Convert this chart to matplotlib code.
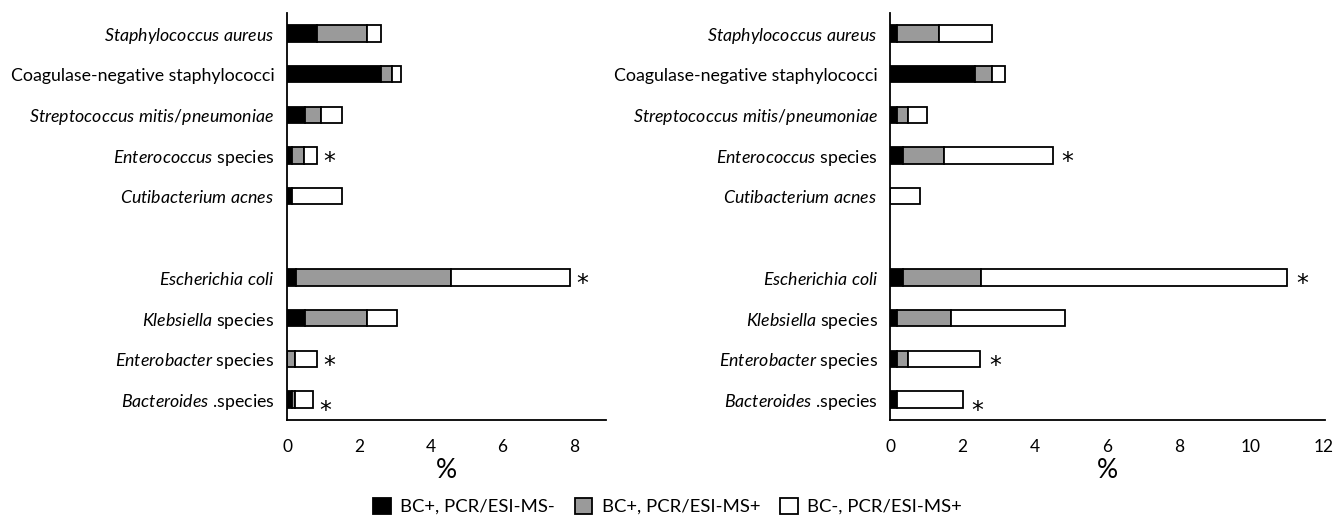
import matplotlib.pyplot as plt
from matplotlib.patches import Patch

plt.rcParams['font.family'] = ['Lato', 'DejaVu Sans']
plt.rcParams['mathtext.fontset'] = 'custom'
plt.rcParams['mathtext.it'] = 'Lato:italic'
plt.rcParams['mathtext.rm'] = 'Lato'

# --- data ---
labels = [
    r"$\mathit{Staphylococcus\ aureus}$ ",
    "Coagulase-negative staphylococci",
    r"$\mathit{Streptococcus\ mitis/pneumoniae}$",
    r"$\mathit{Enterococcus}$ species",
    r"$\mathit{Cutibacterium\ acnes}$ ",
    "",
    r"$\mathit{Escherichia\ coli}$ ",
    r"$\mathit{Klebsiella}$ species",
    r"$\mathit{Enterobacter}$ species",
    r"$\mathit{Bacteroides}$ .species",
]
starred = [False, False, False, True, False, False, True, False, True, True]

left_black = [0.85, 2.61, 0.51, 0.14, 0.14, 0, 0.25, 0.50, 0.00, 0.14]
left_gray = [1.37, 0.33, 0.44, 0.34, 0.00, 0, 4.31, 1.74, 0.23, 0.09]
left_white = [0.39, 0.24, 0.58, 0.36, 1.39, 0, 3.33, 0.82, 0.61, 0.50]

right_black = [0.18, 2.35, 0.18, 0.35, 0.00, 0, 0.35, 0.18, 0.18, 0.18]
right_gray = [1.16, 0.48, 0.31, 1.14, 0.00, 0, 2.15, 1.50, 0.31, 0.00]
right_white = [1.49, 0.34, 0.52, 3.01, 0.83, 0, 8.50, 3.15, 2.00, 1.82]

legend_labels = ["BC+, PCR/ESI-MS-", "BC+, PCR/ESI-MS+", "BC-, PCR/ESI-MS+"]
colors = ["black", "#9a9a9a", "white"]

fig = plt.figure(figsize=(13.35, 5.23), dpi=100)
ax1 = fig.add_axes([0.215, 0.197, 0.239, 0.778])
ax2 = fig.add_axes([0.667, 0.197, 0.3255, 0.778])


def draw_panel(ax, black, gray, white, xmax, ticks):
    y = list(range(len(labels)))
    show = [l != "" for l in labels]
    kw = dict(height=0.4, edgecolor="black", linewidth=1.3)
    lefts = [0.0] * len(y)
    for seg, c in zip([black, gray, white], colors):
        for i in y:
            if show[i] and seg[i] > 0:
                ax.barh(i, seg[i], left=lefts[i], color=c, **kw)
            lefts[i] += seg[i]
    for i in y:
        if starred[i]:
            dy = 0.28 if i == 9 else 0.17
            ax.text(lefts[i] + xmax * 0.02, i + dy, "*", fontsize=17,
                    ha="left", va="center", family="DejaVu Sans")
    ax.set_yticks(y)
    ax.set_yticklabels(labels, fontsize=12.8)
    ax.tick_params(axis="y", length=0, pad=9)
    ax.tick_params(axis="x", length=0, labelsize=12.5, pad=14)
    ax.set_xticks(ticks)
    ax.set_xlim(0, xmax)
    ax.set_ylim(9.5, -0.5)
    for s in ["top", "right"]:
        ax.spines[s].set_visible(False)
    ax.spines["left"].set_linewidth(1.3)
    ax.spines["bottom"].set_linewidth(1.3)
    ax.set_xlabel("%", fontsize=19, labelpad=2)


draw_panel(ax1, left_black, left_gray, left_white, 8.9, [0, 2, 4, 6, 8])
draw_panel(ax2, right_black, right_gray, right_white, 12.05, [0, 2, 4, 6, 8, 10, 12])

handles = [Patch(facecolor=c, edgecolor="black", linewidth=1.3) for c in colors]
fig.legend(handles, legend_labels, loc="center", bbox_to_anchor=(0.5, 0.032),
           ncol=3, frameon=False, fontsize=13.3, handlelength=0.95, handleheight=0.95,
           columnspacing=1.1, handletextpad=0.5)

fig.savefig("out.png", dpi=100)
